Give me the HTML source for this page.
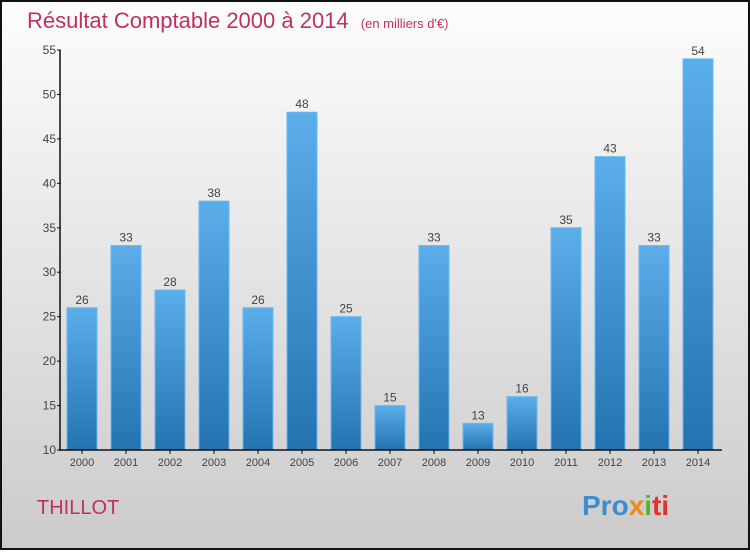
<!DOCTYPE html>
<html><head><meta charset="utf-8"><style>
body{margin:0;width:750px;height:550px;overflow:hidden;font-family:"Liberation Sans",sans-serif}
</style></head><body>
<svg width="750" height="550" xmlns="http://www.w3.org/2000/svg">
<defs>
<linearGradient id="bg" x1="0" y1="0" x2="0" y2="1"><stop offset="0" stop-color="#fdfdfd"/><stop offset="1" stop-color="#cbcbcb"/></linearGradient>
<linearGradient id="bar" x1="0" y1="0" x2="0" y2="1"><stop offset="0" stop-color="#5aaeea"/><stop offset="1" stop-color="#2473b0"/></linearGradient>
</defs>
<rect x="1" y="1" width="748" height="548" fill="url(#bg)" stroke="#111" stroke-width="2"/>
<text x="27" y="28" font-size="22" fill="#c0305f">Résultat Comptable 2000 à 2014 <tspan font-size="13" dx="6">(en milliers d'€)</tspan></text>
<text x="37" y="514" font-size="20" fill="#c0305f">THILLOT</text>
<text x="582" y="515" font-size="28" font-weight="bold" fill="#3a8fd0">Pro<tspan fill="#f08a1c">x</tspan><tspan fill="#5bb030">i</tspan><tspan fill="#e0332a">ti</tspan></text>
<g id="plot"></g>
</svg>
<script>
const categories=["2000","2001","2002","2003","2004","2005","2006","2007","2008","2009","2010","2011","2012","2013","2014"];
const values=[26,33,28,38,26,48,25,15,33,13,16,35,43,33,54];
const yTicks=[10,15,20,25,30,35,40,45,50,55];
const ns="http://www.w3.org/2000/svg";
const g=document.getElementById('plot');
const y=v=>450-(v-10)*400/45;
const x=i=>82+i*44;
function el(t,a,txt){const e=document.createElementNS(ns,t);for(const k in a)e.setAttribute(k,a[k]);if(txt!==undefined)e.textContent=txt;g.appendChild(e);return e;}
values.forEach((v,i)=>{
 const r=el('rect',{x:x(i)-15,y:y(v),width:30,height:450-y(v),fill:'url(#bar)',stroke:'#6bb8ee','stroke-width':1});
 
 
 const t=el('text',{x:x(i),y:y(v)-4,'font-size':12,fill:'#444','text-anchor':'middle'},String(v));
 
 
 const c=el('text',{x:x(i),y:466,'font-size':11,fill:'#444','text-anchor':'middle'},categories[i]);
 
 
 el('line',{x1:x(i),x2:x(i),y1:450,y2:454,stroke:'#111'});
});
yTicks.forEach(v=>{
 el('line',{x1:57,x2:61,y1:y(v),y2:y(v),stroke:'#111'});
 const t=el('text',{x:56,y:y(v)+4,'font-size':12,fill:'#444','text-anchor':'end'},String(v));
 
 
});
const ya=el('line',{x1:60,x2:60,y1:50,y2:451,stroke:'#111','stroke-width':1.5});


const xa=el('line',{x1:60,x2:722,y1:450,y2:450,stroke:'#111','stroke-width':1.5});


</script>
</body></html>
